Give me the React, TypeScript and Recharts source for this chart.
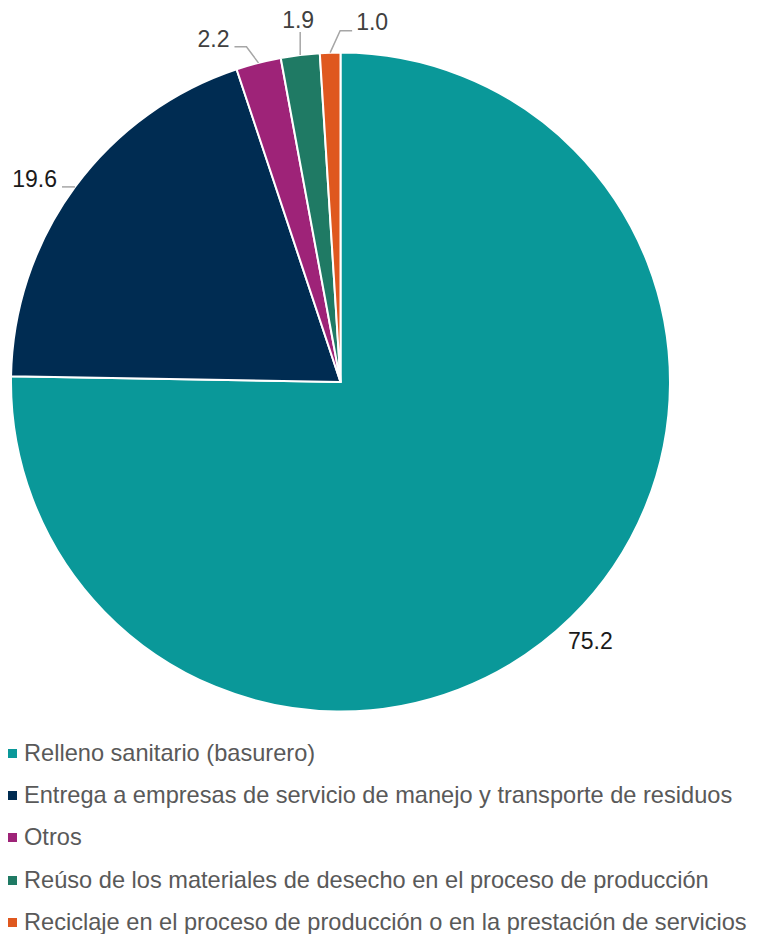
import React from "react"
import { PieChart, Pie, Cell, Legend } from "recharts"

const categories = [
  "Relleno sanitario (basurero)",
  "Entrega a empresas de servicio de manejo y transporte de residuos",
  "Otros",
  "Reúso de los materiales de desecho en el proceso de producción",
  "Reciclaje en el proceso de producción o en la prestación de servicios",
]
const values = [75.2, 19.6, 2.2, 1.9, 1.0]
const colors = ["#0A9899", "#002C52", "#9E2378", "#1F7A64", "#DF581F"]

const data = categories.map((name, i) => ({ name, value: values[i] }))

const RAD = Math.PI / 180

// label placement relative to the slice's outer edge point
// line: elbow points offset from edge; text: anchor + offset
const labelLayout = [
  { line: [], dx: -5, dy: 0, anchor: "middle", radial: 34, color: "#1a1a1a" },
  { line: [[-13, 0]], dx: -18, dy: 0, anchor: "end", radial: 0, color: "#1a1a1a" },
  { line: [[-12, -16], [-24, -16]], dx: -29, dy: -16, anchor: "end", radial: 0, color: "#404040" },
  { line: [[0, -23]], dx: -2, dy: -27, anchor: "middle", radial: 0, color: "#404040" },
  { line: [[10, -22], [22, -22]], dx: 26, dy: -23, anchor: "start", radial: 0, color: "#404040" },
]

const renderLabel = (props: any) => {
  const { cx, cy, midAngle, outerRadius, index, value } = props
  const L = labelLayout[index]
  const ex = cx + Math.cos(-midAngle * RAD) * outerRadius
  const ey = cy + Math.sin(-midAngle * RAD) * outerRadius
  if (L.radial) {
    const tx = cx + Math.cos(-midAngle * RAD) * (outerRadius + L.radial) + L.dx
    const ty = cy + Math.sin(-midAngle * RAD) * (outerRadius + L.radial)
    return (
      <text x={tx} y={ty} textAnchor="middle" dominantBaseline="central" fill={L.color} fontSize={23}>
        {value.toFixed(1)}
      </text>
    )
  }
  const pts = [[ex, ey], ...L.line.map(([a, b]) => [ex + a, ey + b])]
  return (
    <g>
      <polyline points={pts.map((p) => p.join(",")).join(" ")} fill="none" stroke="#A6A6A6" strokeWidth={1.5} />
      <text x={ex + L.dx} y={ey + L.dy} textAnchor={L.anchor as any} fill={L.color} fontSize={23}>
        {value.toFixed(1)}
      </text>
    </g>
  )
}

const renderLegend = () => (
  <div>
    {categories.map((c, i) => (
      <div key={c} style={{ display: "flex", alignItems: "center", height: 42.3 }}>
        <span style={{ width: 9, height: 9, background: colors[i], marginLeft: 7.5, marginRight: 7.5, flexShrink: 0 }} />
        <span style={{ fontSize: 23.6, color: "#595959", whiteSpace: "nowrap" }}>{c}</span>
      </div>
    ))}
  </div>
)

export default function App() {
  return (
    <div style={{ position: "absolute", left: 0, top: 0, width: 757, height: 934, background: "#fff", fontFamily: "'Liberation Sans', Arial, sans-serif" }}>
      <PieChart width={757} height={934} margin={{ top: 0, right: 0, bottom: 0, left: 0 }}>
        <Pie
          data={data}
          dataKey="value"
          nameKey="name"
          cx={340.5}
          cy={382}
          outerRadius={329.5}
          startAngle={90}
          endAngle={-270}
          stroke="#fff"
          strokeWidth={2}
          label={renderLabel}
          labelLine={false}
          isAnimationActive={false}
        >
          {data.map((d, i) => (
            <Cell key={d.name} fill={colors[i]} />
          ))}
        </Pie>
        <Legend content={renderLegend} wrapperStyle={{ left: 0, top: 732, width: 757 }} />
      </PieChart>
    </div>
  )
}
